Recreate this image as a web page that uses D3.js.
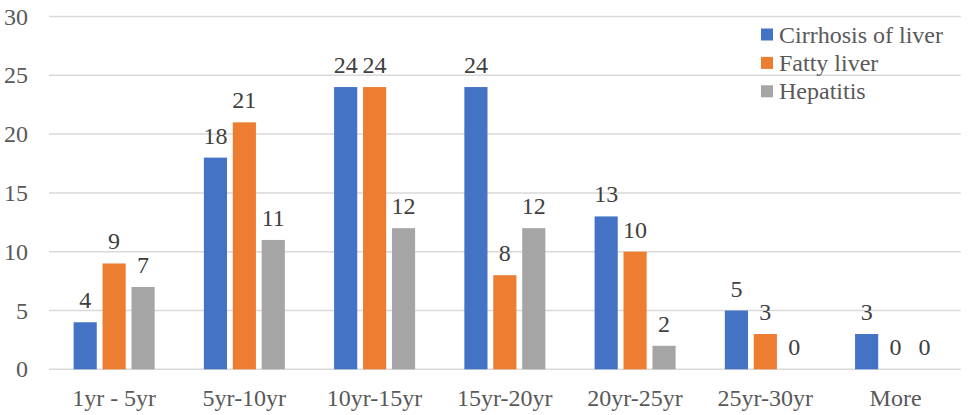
<!DOCTYPE html>
<html>
<head>
<meta charset="utf-8">
<script src="https://cdn.jsdelivr.net/npm/d3@7"></script>
<style>
  body { margin: 0; background: #fff; }
</style>
</head>
<body>
<div id="chart"></div>
<script>
// chart values
const categories = ["1yr - 5yr", "5yr-10yr", "10yr-15yr", "15yr-20yr", "20yr-25yr", "25yr-30yr", "More"];
const seriesNames = ["Cirrhosis of liver", "Fatty liver", "Hepatitis"];
const cirrhosis = [4, 18, 24, 24, 13, 5, 3];
const fatty = [9, 21, 24, 8, 10, 3, 0];
const hepatitis = [7, 11, 12, 12, 2, 0, 0];
const yTicks = [0, 5, 10, 15, 20, 25, 30];

const seriesValues = [cirrhosis, fatty, hepatitis];
const colors = ["#4472C4", "#ED7D31", "#A5A5A5"];
const serif = "'Liberation Serif', Tinos, 'Times New Roman', 'DejaVu Serif', 'Noto Serif', serif";

const width = 975, height = 415;
const plot = {left: 49, right: 960.7, top: 16.5, bottom: 369.3};

const svg = d3.select("#chart").append("svg")
    .attr("width", width)
    .attr("height", height)
    .attr("font-family", serif);

// scales
const x0 = d3.scaleBand()
    .domain(categories)
    .range([plot.left, plot.right])
    .paddingInner(0.378)
    .paddingOuter(0.189);

const x1 = d3.scaleBand()
    .domain(seriesNames)
    .range([0, x0.bandwidth()])
    .paddingInner(0.2);

const y = d3.scaleLinear()
    .domain([0, 30])
    .range([plot.bottom, plot.top]);

// gridlines
svg.append("g")
    .selectAll("line")
    .data(yTicks)
    .join("line")
    .attr("x1", plot.left)
    .attr("x2", plot.right)
    .attr("y1", d => y(d))
    .attr("y2", d => y(d))
    .attr("stroke", "#D9D9D9")
    .attr("stroke-width", 1.5);

// y axis labels
const yAxis = d3.axisLeft(y).tickValues(yTicks).tickSize(0).tickPadding(0);
svg.append("g")
    .attr("transform", "translate(28,0)")
    .call(yAxis)
    .attr("font-family", serif)
    .call(g => g.select(".domain").remove())
    .call(g => g.selectAll("text")
        .style("font-family", serif)
        .attr("fill", "#595959")
        .attr("font-size", "24px"));

// x axis labels
const xAxis = d3.axisBottom(x0).tickSize(0).tickPadding(0);
svg.append("g")
    .attr("transform", "translate(0," + plot.bottom + ")")
    .call(xAxis)
    .attr("font-family", serif)
    .call(g => g.select(".domain").remove())
    .call(g => g.selectAll("text")
        .style("font-family", serif)
        .attr("dy", null)
        .attr("y", 37)
        .attr("fill", "#595959")
        .attr("font-size", "24px"));

// bars
const rows = categories.map((c, i) => ({
    category: c,
    values: seriesNames.map((s, j) => ({series: s, value: seriesValues[j][i], color: colors[j]}))
}));

const groups = svg.append("g")
    .selectAll("g")
    .data(rows)
    .join("g")
    .attr("transform", d => "translate(" + x0(d.category) + ",0)");

groups.selectAll("rect")
    .data(d => d.values)
    .join("rect")
    .attr("x", d => x1(d.series))
    .attr("y", d => y(d.value))
    .attr("width", x1.bandwidth())
    .attr("height", d => y(0) - y(d.value))
    .attr("fill", d => d.color);

groups.selectAll("text")
    .data(d => d.values)
    .join("text")
    .style("font-family", serif)
    .attr("x", d => x1(d.series) + x1.bandwidth() / 2)
    .attr("y", d => y(d.value) - 14)
    .attr("text-anchor", "middle")
    .attr("fill", "#404040")
    .attr("font-size", "24px")
    .text(d => d.value);

// legend
const legend = svg.append("g")
    .attr("transform", "translate(761,28.5)");

const items = legend.selectAll("g")
    .data(seriesNames)
    .join("g")
    .attr("transform", (d, i) => "translate(0," + (i * 28.4) + ")");

items.append("rect")
    .attr("width", 12)
    .attr("height", 12)
    .attr("fill", (d, i) => colors[i]);

items.append("text")
    .style("font-family", serif)
    .attr("x", 18)
    .attr("y", 14)
    .attr("fill", "#595959")
    .attr("font-size", "24px")
    .text(d => d);
</script>
</body>
</html>
